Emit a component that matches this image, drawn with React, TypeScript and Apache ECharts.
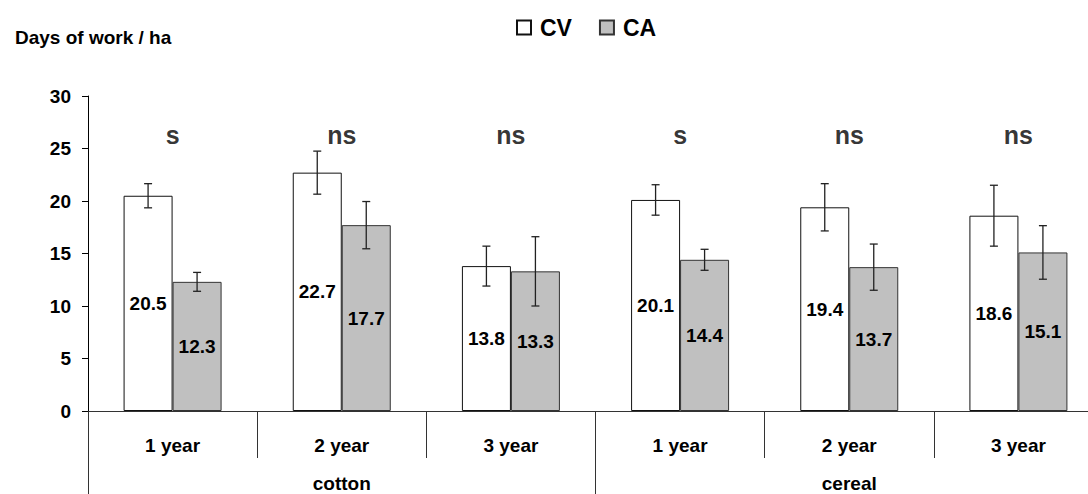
import React, { useEffect, useRef } from "react";
import * as echarts from "echarts";

const yearLabels = ["1 year", "2 year", "3 year", "1 year", "2 year", "3 year"];
const cropLabels = ["cotton", "cereal"];
const cvValues = [20.5, 22.7, 13.8, 20.1, 19.4, 18.6];
const caValues = [12.3, 17.7, 13.3, 14.4, 13.7, 15.1];
const cvErrors = [1.15, 2.05, 1.9, 1.45, 2.25, 2.9];
const caErrors = [0.9, 2.25, 3.3, 1.0, 2.2, 2.55];
const sigLabels = ["s", "ns", "ns", "s", "ns", "ns"];
const yMin = 0;
const yMax = 30;
const yInterval = 5;

const FONT = "'Liberation Sans', Arial, Helvetica, sans-serif";
const BAR_W = 49;
const SIG_LEVEL = 26.3;
const FS = 19;

function errorSeries(name: string, values: number[], errs: number[], offset: number) {
  return {
    type: "custom",
    name: name + "-err",
    xAxisIndex: 0,
    yAxisIndex: 0,
    z: 10,
    silent: true,
    data: values.map((v, i) => [i, v, errs[i]]),
    encode: { x: 0, y: 1 },
    renderItem: (_params: any, api: any) => {
      const i = api.value(0);
      const v = api.value(1);
      const e = api.value(2);
      const top = api.coord([i, v + e]);
      const bot = api.coord([i, v - e]);
      const x = top[0] + offset;
      const style = { stroke: "#222", lineWidth: 1.3 };
      return {
        type: "group",
        children: [
          { type: "line", shape: { x1: x, y1: top[1], x2: x, y2: bot[1] }, style },
          { type: "line", shape: { x1: x - 4, y1: top[1], x2: x + 4, y2: top[1] }, style },
          { type: "line", shape: { x1: x - 4, y1: bot[1], x2: x + 4, y2: bot[1] }, style },
        ],
      };
    },
  };
}

export default function App() {
  const ref = useRef<HTMLDivElement>(null);
  useEffect(() => {
    if (!ref.current) return;
    const chart = echarts.init(ref.current, undefined, { renderer: "svg" });
    const labelStyle = {
      show: true,
      position: "inside",
      color: "#000",
      fontSize: FS,
      fontWeight: "bold",
      fontFamily: FONT,
    };
    chart.setOption({
      animation: false,
      backgroundColor: "#fff",
      textStyle: { fontFamily: FONT },
      legend: {
        data: ["CV", "CA"],
        left: 511,
        top: 11,
        icon: "rect",
        itemWidth: 14,
        itemHeight: 14,
        itemGap: 27,
        selectedMode: false,
        textStyle: { fontSize: 23, fontWeight: "bold", color: "#000", fontFamily: FONT, padding: [0, 0, 0, 4] },
      },
      graphic: [
        {
          type: "text",
          x: 15,
          y: 37,
          style: {
            text: "Days of work / ha",
            fontSize: FS,
            fontWeight: "bold",
            fontFamily: FONT,
            fill: "#000",
            verticalAlign: "middle",
          },
        },
      ],
      grid: { left: 88, width: 1015, top: 96, height: 315, outerBoundsMode: "none", containLabel: false },
      xAxis: [
        {
          type: "category",
          data: yearLabels,
          position: "bottom",
          axisLine: { show: true, lineStyle: { color: "#333", width: 1 } },
          axisTick: { show: true, interval: 0, length: 47, lineStyle: { color: "#333", width: 1 } },
          axisLabel: { interval: 0, margin: 25, fontSize: FS, fontWeight: "bold", color: "#000", fontFamily: FONT },
          splitLine: { show: false },
        },
        {
          type: "category",
          data: cropLabels,
          position: "bottom",
          axisLine: { show: false },
          axisTick: { show: true, interval: 0, length: 90, lineStyle: { color: "#333", width: 1 } },
          axisLabel: { interval: 0, margin: 63, fontSize: FS, fontWeight: "bold", color: "#000", fontFamily: FONT },
          splitLine: { show: false },
        },
      ],
      yAxis: {
        type: "value",
        min: yMin,
        max: yMax,
        interval: yInterval,
        axisLine: { show: true, lineStyle: { color: "#000", width: 1 } },
        axisTick: { show: true, length: 6, lineStyle: { color: "#000", width: 1 } },
        axisLabel: { margin: 17, fontSize: FS, fontWeight: "bold", color: "#000", fontFamily: FONT },
        splitLine: { show: false },
      },
      series: [
        {
          name: "CV",
          type: "bar",
          data: cvValues,
          barWidth: BAR_W,
          barGap: "0%",
          itemStyle: { color: "#ffffff", borderColor: "#111", borderWidth: 1 },
          label: labelStyle,
        },
        {
          name: "CA",
          type: "bar",
          data: caValues,
          barWidth: BAR_W,
          barGap: "0%",
          itemStyle: { color: "#c0c0c0", borderColor: "#333", borderWidth: 1 },
          label: labelStyle,
        },
        errorSeries("CV", cvValues, cvErrors, -BAR_W / 2),
        errorSeries("CA", caValues, caErrors, BAR_W / 2),
        {
          type: "scatter",
          name: "sig",
          data: sigLabels.map((_, i) => [i, SIG_LEVEL]),
          symbolSize: 0,
          silent: true,
          label: {
            show: true,
            position: "inside",
            formatter: (p: any) => sigLabels[p.dataIndex],
            fontSize: 25,
            fontWeight: "bold",
            color: "#000",
            fontFamily: FONT,
          },
        },
      ],
    });
    return () => chart.dispose();
  }, []);
  return (
    <div
      ref={ref}
      style={{ position: "absolute", left: 0, top: 0, width: 1088, height: 494 }}
    />
  );
}
